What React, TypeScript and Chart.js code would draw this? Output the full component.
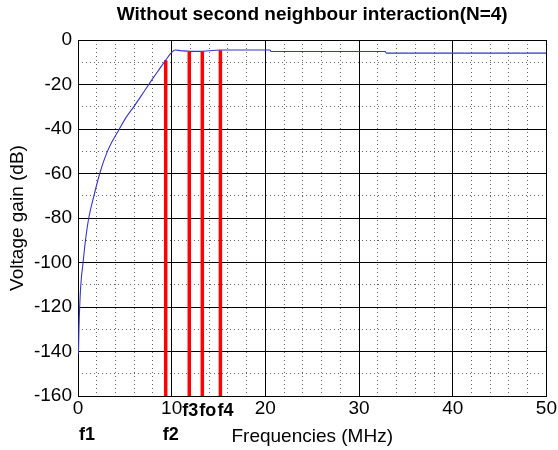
import React, { useEffect, useRef } from 'react';
import { Chart, registerables } from 'chart.js';

Chart.register(...registerables);

// Frequency response curve (MHz, dB)
const curveFreq = [0.05, 0.1, 0.18, 0.3, 0.54, 0.8, 1.15, 1.7, 2.32, 2.7, 3.1, 3.6, 4.28, 5.1, 6.0, 7.0, 8.03, 8.7, 9.36, 9.9, 10.36, 11.0, 12.0, 13.0, 14.0, 15.2, 20.5, 20.6, 32.8, 32.9, 50];
const curveGain = [-141, -130, -120, -110, -100, -90, -80, -70, -60, -55, -50.5, -46, -41, -35, -29.7, -23.5, -17, -13, -9.1, -6, -4.5, -4.8, -5.1, -5.1, -4.8, -4.5, -4.5, -5.2, -5.2, -5.9, -5.9];

// Red marker lines
const markerFreqs = [9.36, 11.88, 13.27, 15.2];
const markerGains = [-9.1, -5.2, -5.1, -4.6];

// Frequency labels
const labelNames = ['f1', 'f2', 'f3', 'fo', 'f4'];
const labelFreqs = [0, 9.36, 11.88, 13.27, 15.2];

// Axes
const xMin = 0;
const xMax = 50;
const xMajorStep = 10;
const xMinorStep = 2;
const yMin = -160;
const yMax = 0;
const yMajorStep = 20;
const yMinorStep = 10;

const titleText = 'Without second neighbour interaction(N=4)';
const xTitle = 'Frequencies (MHz)';
const yTitle = 'Voltage gain (dB)';

const FONT = '"Liberation Sans", Arial, Helvetica, sans-serif';

export default function App() {
  const ref = useRef<HTMLCanvasElement | null>(null);

  useEffect(() => {
    document.body.style.margin = '0';
    const canvas = ref.current;
    if (!canvas) return;

    const lowerRow = new Set(['f1', 'f2']);
    const labelPlugin = {
      id: 'freqLabels',
      afterDraw(chart: any) {
        const c = chart.ctx as CanvasRenderingContext2D;
        const xs = chart.scales.x;
        const area = chart.chartArea;
        c.save();
        c.font = `bold 18px ${FONT}`;
        c.fillStyle = '#000';
        c.textBaseline = 'alphabetic';
        c.textAlign = 'left';
        const items = labelNames.map((name, i) => {
          const px = xs.getPixelForValue(labelFreqs[i]);
          const w = c.measureText(name).width;
          const left = Math.max(px - 3, area.left + 1);
          return { name, left, w, lower: lowerRow.has(name) };
        });
        for (const lower of [true, false]) {
          const row = items.filter((it) => it.lower === lower).sort((a, b) => a.left - b.left);
          for (let k = row.length - 2; k >= 0; k--) {
            const next = row[k + 1];
            if (row[k].left + row[k].w > next.left - 1) row[k].left = next.left - 1 - row[k].w;
          }
        }
        items.forEach((it) => c.fillText(it.name, it.left, area.bottom + (it.lower ? 44 : 19.5)));
        c.restore();
      },
    };

    const redSets = markerFreqs.map((f, i) => ({
      type: 'line' as const,
      data: [
        { x: f, y: yMin },
        { x: f, y: markerGains[i] },
      ],
      borderColor: '#ff0000',
      borderWidth: 3.5,
      pointRadius: 0,
      borderCapStyle: 'butt' as const,
      order: 1,
    }));

    const minorColor = '#666';

    const chart = new Chart(canvas, {
      type: 'line',
      data: {
        datasets: [
          {
            data: curveFreq.map((f, i) => ({ x: f, y: curveGain[i] })),
            borderColor: '#3535c8',
            borderWidth: 1.1,
            pointRadius: 0,
            cubicInterpolationMode: 'monotone',
            order: 0,
          },
          ...redSets,
        ],
      },
      options: {
        animation: false,
        responsive: false,
        devicePixelRatio: 1,
        layout: { padding: { left: 0, right: 11, top: 0, bottom: 0 } },
        plugins: {
          legend: { display: false },
          tooltip: { enabled: false },
          title: {
            display: true,
            fullSize: false,
            text: titleText,
            color: '#000',
            font: { family: FONT, size: 19, weight: 'bold' },
            padding: { top: 3, bottom: 14.2 },
          },
        },
        scales: {
          x: {
            type: 'linear',
            position: 'bottom',
            min: xMin,
            max: xMax,
            afterFit: (s: any) => { s.height = 54; },
            ticks: {
              stepSize: xMajorStep,
              color: '#000',
              font: { family: FONT, size: 19 },
              padding: 1,
              maxRotation: 0,
            },
            grid: { color: '#000', lineWidth: 1, drawTicks: false },
            border: { display: true, color: '#000' },
            title: {
              display: true,
              text: xTitle,
              color: '#000',
              font: { family: FONT, size: 19 },
              padding: { top: 0, bottom: 2 },
            },
          },
          xMinor: {
            type: 'linear',
            position: 'bottom',
            min: xMin,
            max: xMax,
            afterFit: (s: any) => { s.height = 0; },
            ticks: { display: false, stepSize: xMinorStep },
            grid: {
              drawTicks: false,
              z: -2,
              lineWidth: 1,
              color: (ctx: any) => (ctx.tick && Math.abs(ctx.tick.value % xMajorStep) > 1e-6 ? minorColor : 'rgba(0,0,0,0)'),
            },
            border: { display: false, dash: [1, 3] },
          },
          y: {
            type: 'linear',
            position: 'left',
            min: yMin,
            max: yMax,
            afterFit: (s: any) => { s.width = 78; },
            ticks: {
              stepSize: yMajorStep,
              color: '#000',
              font: { family: FONT, size: 19 },
              padding: 6,
            },
            grid: { color: '#000', lineWidth: 1, drawTicks: false },
            border: { display: true, color: '#000' },
            title: {
              display: true,
              text: yTitle,
              color: '#000',
              font: { family: FONT, size: 19 },
              padding: { top: 6, bottom: 0 },
            },
          },
          yMinor: {
            type: 'linear',
            position: 'left',
            min: yMin,
            max: yMax,
            afterFit: (s: any) => { s.width = 0; },
            ticks: { display: false, stepSize: yMinorStep },
            grid: {
              drawTicks: false,
              z: -2,
              lineWidth: 1,
              color: (ctx: any) => (ctx.tick && Math.abs(ctx.tick.value % yMajorStep) > 1e-6 ? minorColor : 'rgba(0,0,0,0)'),
            },
            border: { display: false, dash: [1, 3] },
          },
        },
      },
      plugins: [labelPlugin],
    });

    return () => chart.destroy();
  }, []);

  return (
    <div style={{ width: 558, height: 450, background: '#fff' }}>
      <canvas ref={ref} width={558} height={450} />
    </div>
  );
}
